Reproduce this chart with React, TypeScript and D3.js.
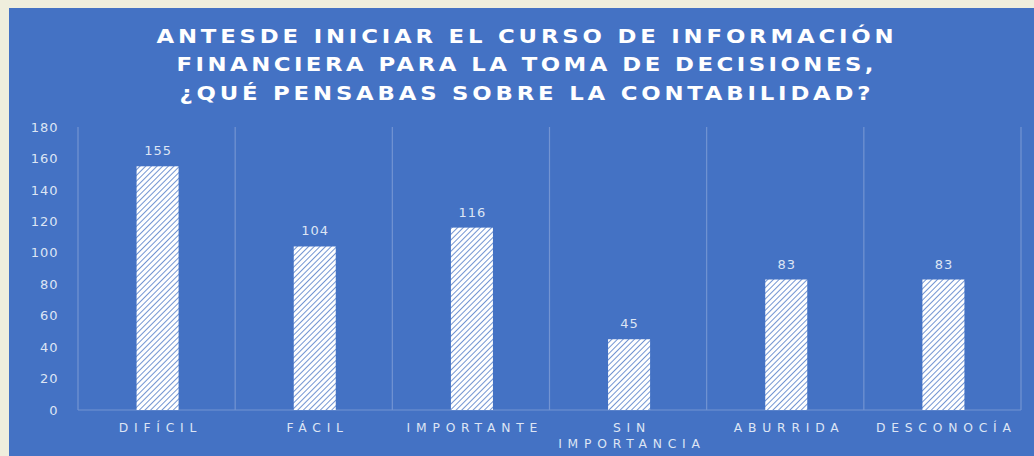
import React from "react";
import * as d3 from "d3";

const categories: string[][] = [["DIFÍCIL"], ["FÁCIL"], ["IMPORTANTE"], ["SIN", "IMPORTANCIA"], ["ABURRIDA"], ["DESCONOCÍA"]];
const values: number[] = [155, 104, 116, 45, 83, 83];
const yTicks: number[] = [0, 20, 40, 60, 80, 100, 120, 140, 160, 180];
const titleLines: string[] = [
  "ANTESDE INICIAR EL CURSO DE INFORMACIÓN",
  "FINANCIERA PARA LA TOMA DE DECISIONES,",
  "¿QUÉ PENSABAS SOBRE LA CONTABILIDAD?",
];

export default function App() {
  const W = 1034, H = 456;
  const left = 78, right = 1021, top = 127, bottom = 410;
  const x = d3.scaleBand<number>().domain(d3.range(values.length)).range([left, right]).paddingInner(0).paddingOuter(0);
  const y = d3.scaleLinear().domain([0, 180]).range([bottom, top]);
  const barW = 42;
  const font = "'DejaVu Sans', 'Open Sans', sans-serif";
  const gridColor = "#7394d2";
  const textColor = "#dde5f4";
  const bounds = d3.range(values.length + 1).map((i) => left + i * x.bandwidth());
  const titleLens = [737, 697, 691];
  const sx = 1.2;
  const lblSp = 5.8;
  return (
    <svg width={W} height={H} style={{ display: "block", position: "absolute", left: 0, top: 0 }}>
      <defs>
        <pattern id="hatch" width="4" height="4" patternUnits="userSpaceOnUse" patternTransform="rotate(45)">
          <rect width="4" height="4" fill="#ffffff" />
          <line x1="0" y1="0" x2="0" y2="4" stroke="#4472c4" strokeWidth="1.5" />
        </pattern>
      </defs>
      <rect width={W} height={H} fill="#efeedd" />
      <rect x={9} y={8} width={W} height={H} fill="#4472c4" />
      <g transform={`scale(${sx},1)`}>
        {titleLines.map((t, i) => (
          <text key={i} x={525 / sx} y={43 + i * 28.5} textAnchor="middle" fill="#ffffff" fontFamily={font} fontWeight={700} fontSize={19}
            textLength={titleLens[i] / sx} lengthAdjust="spacing">
            {t}
          </text>
        ))}
      </g>
      {bounds.map((b, i) => (
        <line key={i} x1={b} x2={b} y1={top} y2={bottom} stroke={gridColor} strokeWidth={1.2} />
      ))}
      <line x1={left} x2={right} y1={bottom} y2={bottom} stroke={gridColor} strokeWidth={1.2} />
      {yTicks.map((t) => (
        <text key={t} x={58.5} y={y(t)} dy="0.36em" textAnchor="end" fill={textColor} fontFamily={font} fontSize={13} letterSpacing={1}>
          {t}
        </text>
      ))}
      {values.map((v, i) => {
        const cx = (x(i) as number) + x.bandwidth() / 2 + 1;
        return (
          <g key={i}>
            <rect x={cx - barW / 2} y={y(v)} width={barW} height={bottom - y(v)} fill="url(#hatch)" />
            <text x={cx + 0.5} y={y(v) - 11} textAnchor="middle" fill={textColor} fontFamily={font} fontSize={13} letterSpacing={1}>
              {v}
            </text>
            {categories[i].map((c, j) => (
              <text key={j} x={cx + lblSp / 2} y={432 + j * 15.5} textAnchor="middle" fill={textColor} fontFamily={font} fontSize={12.3} letterSpacing={lblSp}>
                {c}
              </text>
            ))}
          </g>
        );
      })}
    </svg>
  );
}
